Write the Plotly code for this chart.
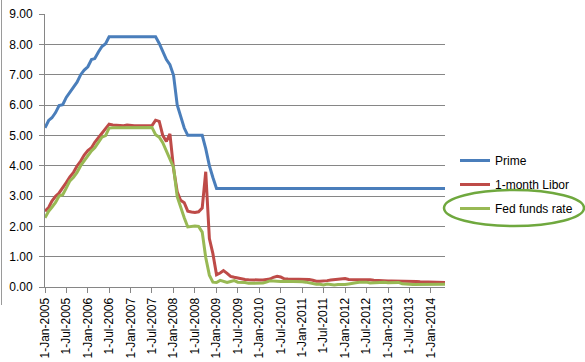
import pandas as pd
import plotly.graph_objects as go

months = pd.date_range("2005-01-01", "2014-05-01", freq="MS")

prime = (
    [5.25, 5.49, 5.58, 5.75, 5.98, 6.01, 6.25, 6.44, 6.59, 6.75, 7.00, 7.15]
    + [7.26, 7.50, 7.53, 7.75, 7.93, 8.02, 8.25, 8.25, 8.25, 8.25, 8.25, 8.25]
    + [8.25, 8.25, 8.25, 8.25, 8.25, 8.25, 8.25, 8.25, 8.03, 7.74, 7.50, 7.33]
    + [6.98, 6.00, 5.66, 5.24, 5.00, 5.00, 5.00, 5.00, 5.00, 4.56, 4.00, 3.61]
    + [3.25] * 12 + [3.25] * 12 + [3.25] * 12 + [3.25] * 12 + [3.25] * 12
    + [3.25, 3.25, 3.25, 3.25, 3.25]
)

libor = (
    [2.50, 2.62, 2.83, 2.99, 3.10, 3.26, 3.44, 3.63, 3.78, 3.99, 4.15, 4.35]
    + [4.50, 4.59, 4.77, 4.92, 5.08, 5.23, 5.37, 5.34, 5.33, 5.32, 5.32, 5.34]
    + [5.32, 5.32, 5.32, 5.32, 5.32, 5.32, 5.32, 5.50, 5.46, 5.00, 4.80, 5.05]
    + [3.90, 3.14, 2.86, 2.78, 2.50, 2.47, 2.46, 2.48, 2.60, 3.80, 1.60, 1.10]
    + [0.40, 0.46, 0.54, 0.45, 0.35, 0.32, 0.29, 0.27, 0.25, 0.24, 0.23, 0.23]
    + [0.23, 0.23, 0.24, 0.26, 0.32, 0.35, 0.33, 0.27, 0.26, 0.26, 0.25, 0.26]
    + [0.26, 0.26, 0.25, 0.22, 0.19, 0.19, 0.19, 0.21, 0.23, 0.24, 0.26, 0.28]
    + [0.28, 0.25, 0.24, 0.24, 0.24, 0.24, 0.25, 0.24, 0.22, 0.21, 0.21, 0.21]
    + [0.20, 0.20, 0.20, 0.20, 0.20, 0.19, 0.19, 0.19, 0.18, 0.17, 0.17, 0.17]
    + [0.16, 0.16, 0.15, 0.15, 0.15]
)

fed_funds = (
    [2.28, 2.50, 2.63, 2.79, 3.00, 3.04, 3.26, 3.50, 3.62, 3.78, 4.00, 4.16]
    + [4.29, 4.49, 4.59, 4.79, 4.94, 4.99, 5.24, 5.25, 5.25, 5.25, 5.25, 5.24]
    + [5.25, 5.26, 5.26, 5.25, 5.25, 5.25, 5.26, 5.02, 4.94, 4.76, 4.49, 4.24]
    + [3.94, 2.98, 2.61, 2.28, 1.98, 2.00, 2.01, 2.00, 1.81, 0.97, 0.39, 0.16]
    + [0.15, 0.22, 0.18, 0.15, 0.18, 0.21, 0.16, 0.16, 0.15, 0.12, 0.12, 0.12]
    + [0.11, 0.13, 0.16, 0.20, 0.20, 0.18, 0.18, 0.19, 0.19, 0.19, 0.19, 0.18]
    + [0.17, 0.16, 0.14, 0.10, 0.09, 0.09, 0.07, 0.10, 0.08, 0.07, 0.08, 0.07]
    + [0.08, 0.10, 0.13, 0.14, 0.16, 0.16, 0.16, 0.13, 0.14, 0.16, 0.16, 0.16]
    + [0.14, 0.15, 0.14, 0.15, 0.11, 0.09, 0.09, 0.08, 0.08, 0.09, 0.08, 0.09]
    + [0.07, 0.07, 0.08, 0.09, 0.09]
)

series_names = ["Prime", "1-month Libor", "Fed funds rate"]
series_colors = ["#4A7EBB", "#BE4B48", "#98B954"]

W, H = 585, 362
L, R, T, B = 45, 445, 14, 287
PW, PH = R - L, B - T


def px_x(p):
    return (p - L) / PW


def px_y(p):
    return (B - p) / PH


fig = go.Figure()
for i, (name, vals) in enumerate(zip(series_names, [prime, libor, fed_funds])):
    fig.add_trace(go.Scatter(
        x=months, y=vals, name=name, mode="lines",
        line=dict(color=series_colors[i], width=3),
        legendgroup=name,
    ))

font = "Liberation Sans, Arial, sans-serif"
gridc = "#868686"

fig.update_layout(
    width=W, height=H,
    margin=dict(l=L, r=W - R, t=T, b=H - B, pad=0, autoexpand=False),
    paper_bgcolor="white", plot_bgcolor="white",
    font=dict(family=font, size=12, color="#000000"),
    showlegend=True,
    legend=dict(
        x=px_x(455), y=px_y(146), xanchor="left", yanchor="top",
        font=dict(family=font, size=12, color="#000000"),
        itemwidth=30, tracegroupgap=5, bgcolor="rgba(0,0,0,0)",
    ),
    xaxis=dict(
        type="date", range=[months[0], months[-1]], automargin=False,
        tick0="2005-01-01", dtick="M6", tickformat="%-d-%b-%Y",
        tickangle=-90, showgrid=False, showline=True, linecolor=gridc,
        linewidth=1, ticks="outside", ticklen=5, tickcolor=gridc,
        zeroline=False, tickfont=dict(size=12),
    ),
    yaxis=dict(
        range=[0, 9], dtick=1, tick0=0, tickformat=".2f", automargin=False,
        showgrid=True, gridcolor=gridc, gridwidth=1,
        showline=True, linecolor=gridc, linewidth=1,
        ticks="outside", ticklen=5, tickcolor=gridc,
        zeroline=False, tickfont=dict(size=12), ticklabelstandoff=4,
    ),
    shapes=[
        dict(type="circle", xref="paper", yref="paper",
             x0=px_x(444), x1=px_x(584), y0=px_y(226), y1=px_y(190),
             line=dict(color="#6FA83E", width=2.5)),
        dict(type="line", xref="paper", yref="paper",
             x0=px_x(1.5), x1=px_x(1.5), y0=px_y(0), y1=px_y(305),
             line=dict(color="#9A9A9A", width=1)),
    ],
)

fig.write_html("out.html")
